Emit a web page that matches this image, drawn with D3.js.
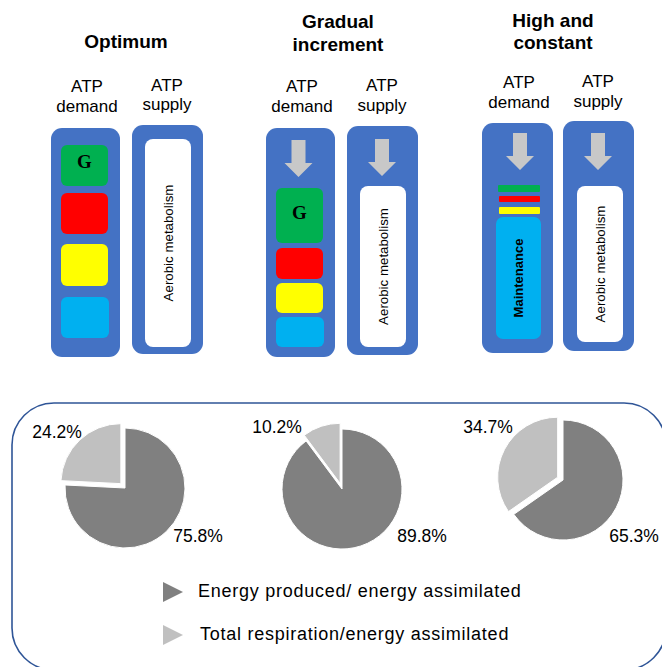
<!DOCTYPE html>
<html>
<head>
<meta charset="utf-8">
<script src="https://cdn.jsdelivr.net/npm/d3@7"></script>
<style>
  html, body { margin: 0; padding: 0; background: #fff; }
  svg { display: block; }
  text { font-family: "Liberation Sans", Arial, sans-serif; fill: #000; }
</style>
</head>
<body>
<svg id="chart" width="662" height="667"></svg>
<script>
// Scenario names and energy budget shares (%)
const scenarios = ["Optimum", "Gradual increment", "High and constant"];
const titleLines = [["Optimum"], ["Gradual", "increment"], ["High and", "constant"]];
const energyProduced = [75.8, 89.8, 65.3];
const totalRespiration = [24.2, 10.2, 34.7];
const legendLabels = ["Energy produced/ energy assimilated", "Total respiration/energy assimilated"];
const columnLabels = [["ATP", "demand"], ["ATP", "supply"]];
const supplyLabel = "Aerobic metabolism";
const maintenanceLabel = "Maintenance";

// Colours
const boxBlue = "#4472C4";
const demandColours = ["#00B050", "#FF0000", "#FFFF00", "#00B0F0"];
const arrowGrey = "#C8C8C8";
const pieColours = ["#808080", "#C0C0C0"];
const frameBlue = "#2F5597";

const svg = d3.select("#chart");

// ---------- Schematic layout for each scenario ----------
const layout = [
  {
    titleX: 126, titleY: [48],
    demandLab: { x: 87, y: [92, 112] }, supplyLab: { x: 167, y: [91, 110] },
    demandBox: { x: 51, y: 128, w: 69, h: 229 },
    supplyBox: { x: 132, y: 125, w: 71, h: 229 },
    demandArrow: null, supplyArrow: null,
    blocks: [
      { x: 61, y: 145, w: 47, h: 41 },
      { x: 61, y: 193, w: 47, h: 41 },
      { x: 61, y: 244, w: 47, h: 42 },
      { x: 61, y: 297, w: 48, h: 41 }
    ],
    stripes: null,
    white: { x: 145, y: 139, w: 46, h: 208 },
    gY: 168
  },
  {
    titleX: 338, titleY: [28, 51],
    demandLab: { x: 302, y: [92, 112] }, supplyLab: { x: 382, y: [91, 111] },
    demandBox: { x: 266, y: 128, w: 69, h: 229 },
    supplyBox: { x: 347, y: 126, w: 71, h: 229 },
    demandArrow: { cx: 298.5, y: 140, h: 37 },
    supplyArrow: { cx: 382, y: 139, h: 37 },
    blocks: [
      { x: 276, y: 188, w: 47, h: 55 },
      { x: 276, y: 248, w: 47, h: 31 },
      { x: 276, y: 283, w: 47, h: 30 },
      { x: 276, y: 317, w: 48, h: 30 }
    ],
    stripes: null,
    white: { x: 360, y: 186, w: 46, h: 161 },
    gY: 219
  },
  {
    titleX: 553, titleY: [27, 49],
    demandLab: { x: 519, y: [88, 108] }, supplyLab: { x: 598, y: [87, 107] },
    demandBox: { x: 482, y: 123, w: 71, h: 230 },
    supplyBox: { x: 563, y: 121, w: 71, h: 230 },
    demandArrow: { cx: 520, y: 133, h: 37 },
    supplyArrow: { cx: 598, y: 133, h: 37 },
    blocks: null,
    stripes: [
      { x: 498, y: 185, w: 42, h: 7 },
      { x: 499, y: 196, w: 41, h: 6 },
      { x: 499, y: 207, w: 41, h: 7 }
    ],
    maint: { x: 496, y: 217, w: 45, h: 122 },
    white: { x: 577, y: 186, w: 46, h: 156 }
  }
];

// Downward block arrow
function arrowPath(a) {
  const shaftHalf = 7, headHalf = 14, shaftH = a.h * 0.62;
  return `M${a.cx - shaftHalf},${a.y} H${a.cx + shaftHalf} V${a.y + shaftH} H${a.cx + headHalf}
          L${a.cx},${a.y + a.h} L${a.cx - headHalf},${a.y + shaftH} H${a.cx - shaftHalf} Z`;
}

layout.forEach((p, i) => {
  const g = svg.append("g").attr("class", "scenario");

  // Scenario title
  titleLines[i].forEach((t, k) => {
    g.append("text").attr("x", p.titleX).attr("y", p.titleY[k])
      .attr("text-anchor", "middle").attr("font-size", 19).attr("font-weight", "bold").text(t);
  });

  // Column headings
  [p.demandLab, p.supplyLab].forEach((lab, c) => {
    columnLabels[c].forEach((t, k) => {
      g.append("text").attr("x", lab.x).attr("y", lab.y[k])
        .attr("text-anchor", "middle").attr("font-size", 17).text(t);
    });
  });

  // Outer blue columns
  [p.demandBox, p.supplyBox].forEach(b => {
    g.append("rect").attr("x", b.x).attr("y", b.y).attr("width", b.w).attr("height", b.h)
      .attr("rx", 11).attr("fill", boxBlue);
  });

  // Arrows
  [p.demandArrow, p.supplyArrow].forEach(a => {
    if (a) g.append("path").attr("d", arrowPath(a)).attr("fill", arrowGrey);
  });

  // Demand blocks
  if (p.blocks) {
    p.blocks.forEach((b, k) => {
      g.append("rect").attr("x", b.x).attr("y", b.y).attr("width", b.w).attr("height", b.h)
        .attr("rx", 6).attr("fill", demandColours[k]);
    });
    const gb = p.blocks[0];
    g.append("text").attr("x", gb.x + gb.w / 2).attr("y", p.gY)
      .attr("text-anchor", "middle").attr("font-size", 19).attr("font-weight", "bold")
      .style("font-family", "'Liberation Serif', 'Times New Roman', serif").text("G");
  }
  if (p.stripes) {
    p.stripes.forEach((s, k) => {
      g.append("rect").attr("x", s.x).attr("y", s.y).attr("width", s.w).attr("height", s.h)
        .attr("rx", 1).attr("fill", demandColours[k]);
    });
    const m = p.maint;
    g.append("rect").attr("x", m.x).attr("y", m.y).attr("width", m.w).attr("height", m.h)
      .attr("rx", 7).attr("fill", demandColours[3]);
    g.append("text")
      .attr("transform", `translate(${m.x + m.w / 2 + 4.5},${m.y + m.h / 2 + 0}) rotate(-90)`)
      .attr("text-anchor", "middle").attr("font-size", 13).attr("font-weight", "bold")
      .text(maintenanceLabel);
  }

  // Supply white panel
  const w = p.white;
  g.append("rect").attr("x", w.x).attr("y", w.y).attr("width", w.w).attr("height", w.h)
    .attr("rx", 8).attr("fill", "#fff");
  g.append("text")
    .attr("transform", `translate(${w.x + w.w / 2 + 4.5},${w.y + w.h / 2}) rotate(-90)`)
    .attr("text-anchor", "middle").attr("font-size", 13.3).text(supplyLabel);
});

// ---------- Lower frame with pies ----------
svg.append("rect").attr("x", 12).attr("y", 403).attr("width", 654).attr("height", 267)
  .attr("rx", 42).attr("fill", "none").attr("stroke", frameBlue).attr("stroke-width", 1.6);

const pieCentres = [[125, 488], [342, 489], [563, 480]];
const radius = 60;
const explode = 6;
const labelOffsets = [
  [[73, 54], [-68, -50]],
  [[80, 53], [-65, -56]],
  [[71, 62], [-75, -47]]
];

const pie = d3.pie().sort(null).value(d => d.value).startAngle(0).endAngle(2 * Math.PI);
const arc = d3.arc().innerRadius(0).outerRadius(radius);

scenarios.forEach((s, i) => {
  const data = [
    { key: "produced", value: energyProduced[i] },
    { key: "respiration", value: totalRespiration[i] }
  ];
  const [cx, cy] = pieCentres[i];
  const g = svg.append("g").attr("transform", `translate(${cx},${cy})`);
  const arcs = pie(data);

  g.selectAll("path").data(arcs).join("path")
    .attr("d", arc)
    .attr("fill", (d, k) => pieColours[k])
    .attr("stroke", "#fff").attr("stroke-width", 1)
    .attr("transform", (d, k) => {
      if (k === 0) return null;
      const mid = (d.startAngle + d.endAngle) / 2;
      return `translate(${Math.sin(mid) * explode},${-Math.cos(mid) * explode})`;
    });

  arcs.forEach((d, k) => {
    g.append("text").attr("x", labelOffsets[i][k][0]).attr("y", labelOffsets[i][k][1])
      .attr("text-anchor", "middle").attr("font-size", 17.5)
      .text(d3.format(".1f")(d.data.value) + "%");
  });
});

// Legend
const legendY = [592, 635];
legendLabels.forEach((t, k) => {
  const y = legendY[k];
  svg.append("path").attr("d", `M163,${y - 10} L183,${y} L163,${y + 10} Z`).attr("fill", pieColours[k]);
  svg.append("text").attr("x", k === 0 ? 198 : 200).attr("y", y + 5)
    .attr("font-size", 18).attr("letter-spacing", 0.75).text(t);
});
</script>
</body>
</html>
